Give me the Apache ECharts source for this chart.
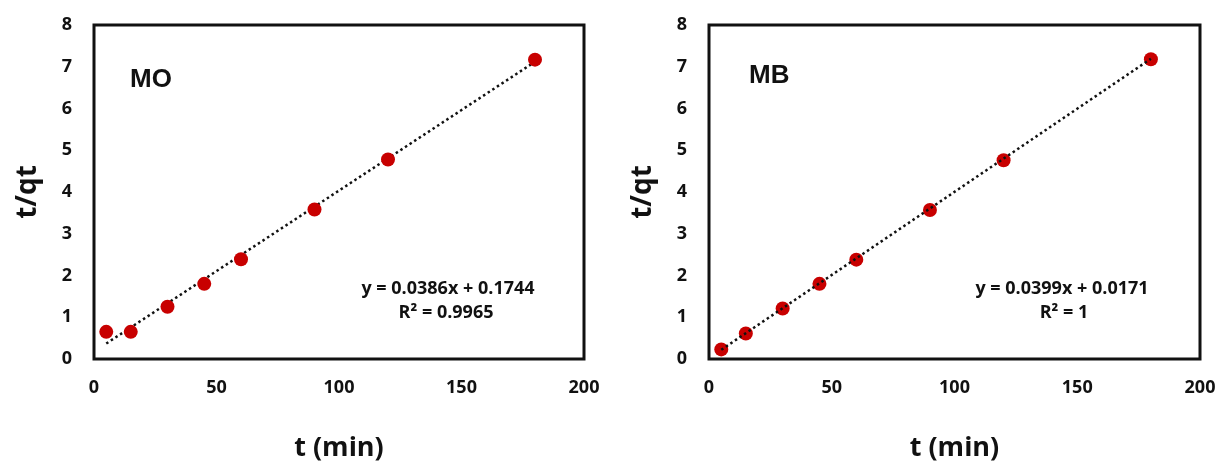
<!DOCTYPE html>
<html>
<head>
<meta charset="utf-8">
<script src="https://cdn.jsdelivr.net/npm/echarts@6/dist/echarts.min.js"></script>
<style>
  html, body { margin: 0; padding: 0; background: #fff; }
  #main { width: 1220px; height: 464px; }
</style>
</head>
<body>
<div id="main"></div>
<script>
// contact time (min)
var timeMin = [5, 15, 30, 45, 60, 90, 120, 180];
// t/qt values
var moValues = [0.65, 0.65, 1.25, 1.8, 2.39, 3.58, 4.78, 7.17];
var mbValues = [0.23, 0.61, 1.21, 1.8, 2.38, 3.57, 4.76, 7.18];
// linear trend ends (x = 5 and x = 180)
var trendX = [5, 180];
var moTrend = [0.37, 7.12];
var mbTrend = [0.22, 7.19];
// axis ticks
var xTicks = [0, 50, 100, 150, 200];
var yTicks = [0, 1, 2, 3, 4, 5, 6, 7, 8];

var panelNames = ['MO', 'MB'];
var eqText = ['y = 0.0386x + 0.1744', 'y = 0.0399x + 0.0171'];
var r2Text = ['R\u00b2 = 0.9965', 'R\u00b2 = 1'];

var font = '"Open Sans", "DejaVu Sans", sans-serif';
var ink = '#111';
var red = '#c80000';

function pairs(xs, ys) {
    return xs.map(function (x, i) { return [x, ys[i]]; });
}

var myChart = echarts.init(document.getElementById('main'), null, { renderer: 'canvas' });

var grids = [
    { left: 94, top: 25, width: 490, height: 334 },
    { left: 709, top: 25, width: 491, height: 334 }
];

var option = {
    backgroundColor: '#fff',
    animation: false,
    grid: grids.map(function (g) {
        return {
            left: g.left, top: g.top, width: g.width, height: g.height,
            containLabel: false,
            outerBoundsMode: 'none',
            show: true,
            borderColor: ink,
            borderWidth: 3,
            backgroundColor: 'transparent'
        };
    }),
    xAxis: [0, 1].map(function (i) {
        return {
            type: 'value',
            gridIndex: i,
            min: xTicks[0],
            max: xTicks[xTicks.length - 1],
            interval: xTicks[1] - xTicks[0],
            name: 't (min)',
            nameLocation: 'middle',
            nameGap: 76,
            nameTextStyle: { fontFamily: font, fontWeight: 'bold', fontSize: 27, color: ink },
            axisLine: { show: false },
            axisTick: { show: false },
            splitLine: { show: false },
            axisLabel: { margin: 20, fontFamily: font, fontWeight: 'bold', fontSize: 18, color: ink }
        };
    }),
    yAxis: [0, 1].map(function (i) {
        return {
            type: 'value',
            gridIndex: i,
            min: yTicks[0],
            max: yTicks[yTicks.length - 1],
            interval: yTicks[1] - yTicks[0],
            name: 't/qt',
            nameLocation: 'middle',
            nameGap: 52,
            nameTextStyle: { fontFamily: font, fontWeight: 'bold', fontSize: 28, color: ink },
            axisLine: { show: false },
            axisTick: { show: false },
            splitLine: { show: false },
            axisLabel: { margin: 22, fontFamily: font, fontWeight: 'bold', fontSize: 18, color: ink }
        };
    }),
    series: [
        {
            type: 'line',
            xAxisIndex: 0, yAxisIndex: 0,
            data: pairs(trendX, moTrend),
            symbol: 'none',
            z: 2,
            lineStyle: { color: '#111', width: 2.5, type: [2.5, 3] }
        },
        {
            type: 'scatter',
            xAxisIndex: 0, yAxisIndex: 0,
            data: pairs(timeMin, moValues),
            symbolSize: 14,
            z: 3,
            itemStyle: { color: red, opacity: 1 }
        },
        {
            type: 'scatter',
            xAxisIndex: 1, yAxisIndex: 1,
            data: pairs(timeMin, mbValues),
            symbolSize: 14,
            z: 2,
            itemStyle: { color: red, opacity: 1 }
        },
        {
            type: 'line',
            xAxisIndex: 1, yAxisIndex: 1,
            data: pairs(trendX, mbTrend),
            symbol: 'none',
            z: 3,
            lineStyle: { color: '#111', width: 2.5, type: [2.5, 3] }
        }
    ],
    graphic: [
        { type: 'text', x: 130, y: 80, style: { text: panelNames[0], fill: ink, font: 'bold 26px "Liberation Sans", Arial, sans-serif', textVerticalAlign: 'middle' } },
        { type: 'text', x: 749, y: 76, style: { text: panelNames[1], fill: ink, font: 'bold 26px "Liberation Sans", Arial, sans-serif', textVerticalAlign: 'middle' } },
        { type: 'text', x: 448, y: 289, style: { text: eqText[0], fill: ink, font: 'bold 18px ' + font, textAlign: 'center', textVerticalAlign: 'middle' } },
        { type: 'text', x: 446, y: 313, style: { text: r2Text[0], fill: ink, font: 'bold 18px ' + font, textAlign: 'center', textVerticalAlign: 'middle' } },
        { type: 'text', x: 1062, y: 289, style: { text: eqText[1], fill: ink, font: 'bold 18px ' + font, textAlign: 'center', textVerticalAlign: 'middle' } },
        { type: 'text', x: 1064, y: 313, style: { text: r2Text[1], fill: ink, font: 'bold 18px ' + font, textAlign: 'center', textVerticalAlign: 'middle' } }
    ]
};

option && myChart.setOption(option);

window.addEventListener('resize', myChart.resize);
</script>
</body>
</html>
